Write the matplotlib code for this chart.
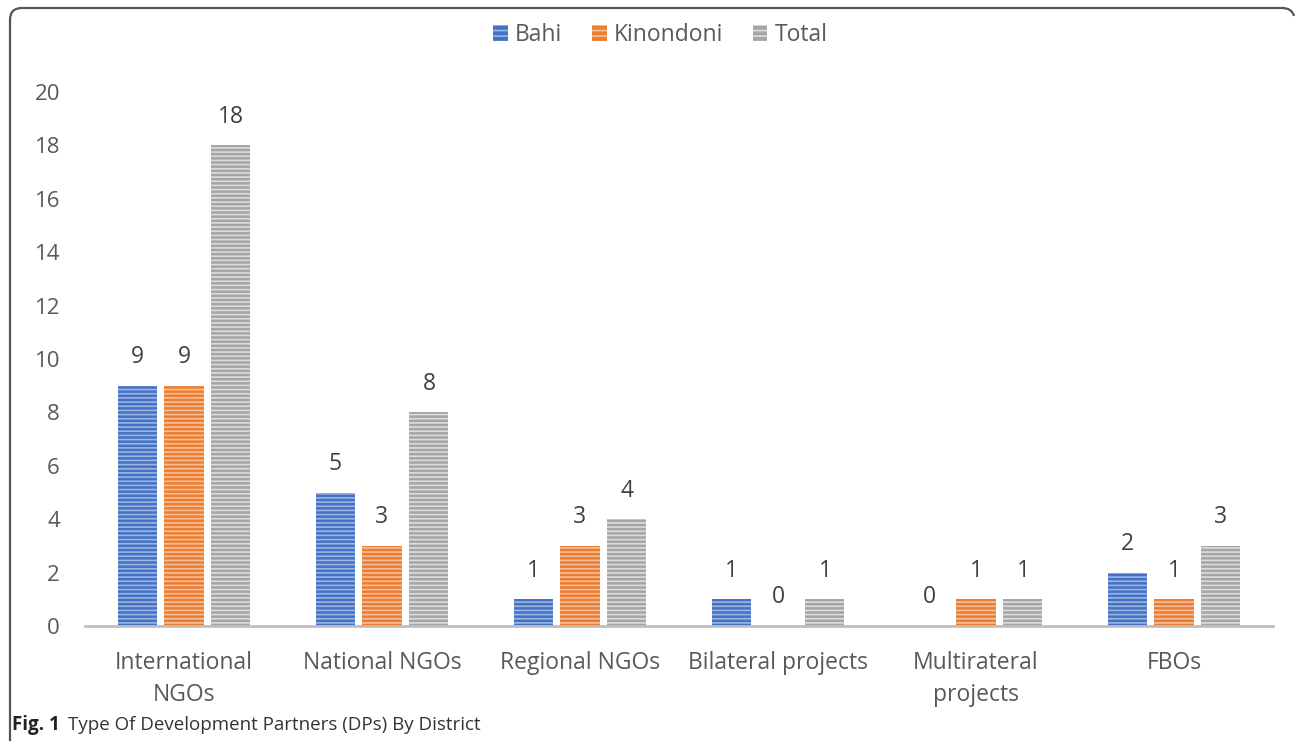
import matplotlib
matplotlib.use("Agg")
import matplotlib.pyplot as plt
import numpy as np
from matplotlib.patches import Patch
from matplotlib.path import Path
from matplotlib.patches import PathPatch

categories = ["International\nNGOs", "National NGOs", "Regional NGOs",
              "Bilateral projects", "Multirateral\nprojects", "FBOs"]
series_names = ["Bahi", "Kinondoni", "Total"]
bahi = [9, 5, 1, 1, 0, 2]
kinondoni = [9, 3, 3, 0, 1, 1]
total = [18, 8, 4, 1, 1, 3]
yticks = [0, 2, 4, 6, 8, 10, 12, 14, 16, 18, 20]

colors = ["#4472C4", "#ED7D31", "#A5A5A5"]
stripe = ["#9DB5E3", "#F6BE98", "#DCDCDC"]

plt.rcParams['font.family'] = ['Open Sans', 'DejaVu Sans']
plt.rcParams['hatch.linewidth'] = 1.2

W, H = 1295, 741
fig = plt.figure(figsize=(W / 100, H / 100), dpi=100)
ax = fig.add_axes([85 / W, 1 - 626 / H, (1273 - 85) / W, (626 - 92) / H])

x = np.arange(len(categories))
bw = 0.197
step = 0.237
txtc = "#595959"
for i, (vals, c, s, name) in enumerate(zip([bahi, kinondoni, total], colors, stripe, series_names)):
    pos = x + (i - 1) * step
    ax.bar(pos, vals, bw, color=c, edgecolor=s, hatch='----', linewidth=0, label=name)
    for px, v in zip(pos, vals):
        ax.annotate(str(v), (px, v), xytext=(0, 12), textcoords='offset points',
                    ha='center', va='bottom', fontsize=16.5, color="#404040")

ax.set_xlim(-0.5, len(categories) - 0.5)
ax.set_ylim(0, 20)
ax.set_yticks(yticks)
ax.set_yticklabels([str(t) for t in yticks], fontsize=16, color=txtc)
ax.set_xticks(x)
ax.set_xticklabels(categories, fontsize=16.5, color=txtc, linespacing=1.45)
ax.tick_params(axis='both', length=0)
ax.tick_params(axis='y', pad=18)
ax.tick_params(axis='x', pad=18)
for sp in ['top', 'right', 'left']:
    ax.spines[sp].set_visible(False)
ax.spines['bottom'].set_color("#BFBFBF")
ax.spines['bottom'].set_linewidth(2)

handles = [Patch(facecolor=c, edgecolor=s, hatch='---', linewidth=0) for c, s in zip(colors, stripe)]
fig.legend(handles, series_names, loc='center', bbox_to_anchor=(0.5097, 1 - 35 / H),
           ncol=3, frameon=False, fontsize=16.5, handlelength=0.65, handleheight=0.65,
           handletextpad=0.3, columnspacing=1.3, labelcolor=txtc)

# frame
fc = "#555555"
def fx(px):
    return px / W
def fy(py):
    return 1 - py / H
verts = [(fx(10), fy(741)), (fx(10), fy(20)), (fx(10), fy(8)), (fx(22), fy(8)),
         (fx(1282), fy(8)), (fx(1292), fy(8)), (fx(1294), fy(16))]
codes = [Path.MOVETO, Path.LINETO, Path.CURVE3, Path.CURVE3, Path.LINETO, Path.CURVE3, Path.CURVE3]
fig.add_artist(PathPatch(Path(verts, codes), transform=fig.transFigure, fill=False,
                         edgecolor=fc, linewidth=1.6))

fig.text(fx(12), fy(725), "Fig. 1", fontsize=13.5, fontweight='bold', color="#222222", va='center')
fig.text(fx(68), fy(725), "Type Of Development Partners (DPs) By District", fontsize=13.5,
         color="#333333", va='center')

fig.savefig("out.png", dpi=100)
